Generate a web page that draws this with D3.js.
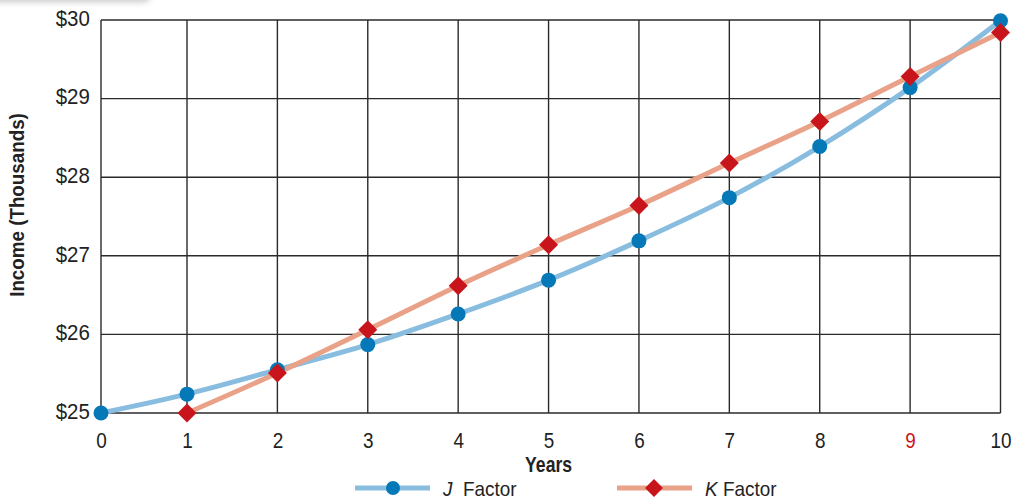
<!DOCTYPE html>
<html>
<head>
<meta charset="utf-8">
<script src="https://cdn.jsdelivr.net/npm/d3@7"></script>
<style>
  html, body { margin: 0; padding: 0; background: #fff; }
  svg { display: block; }
  text { font-family: "Liberation Sans", Arial, sans-serif; }
</style>
</head>
<body>
<svg id="chart" width="1017" height="501"></svg>
<script>
// Years on the horizontal axis
const years = [0, 1, 2, 3, 4, 5, 6, 7, 8, 9, 10];
// Income in thousands of dollars
const jFactor = [25.0, 25.24, 25.55, 25.87, 26.26, 26.69, 27.19, 27.74, 28.39, 29.14, 29.99];
const kYears = [1, 2, 3, 4, 5, 6, 7, 8, 9, 10];
const kFactor = [25.0, 25.51, 26.06, 26.62, 27.14, 27.64, 28.18, 28.71, 29.28, 29.84];
const yTicks = [25, 26, 27, 28, 29, 30];
const yTickLabels = ["$25", "$26", "$27", "$28", "$29", "$30"];
const highlightYear = 9;

const svg = d3.select("#chart");
const plotTop = 20, plotBottom = 413;

// the first year column is slightly narrower than the rest
const x = d3.scaleLinear().domain([0, 1, 10]).range([101, 187, 1000.5]);
const y = d3.scaleLinear().domain([25, 30]).range([plotBottom, plotTop]);
const plotLeft = x(0), plotRight = x(10);

// squeeze text horizontally to get a condensed face
function condense(sel, k) {
  sel.each(function () {
    const t = d3.select(this);
    const tx = +t.attr("x") || 0, ty = +t.attr("y") || 0;
    t.attr("x", null).attr("y", null)
      .attr("transform", `translate(${tx},${ty}) scale(${k},1)`);
  });
}

// soft grey tab shadow in the top-left corner
const defs = svg.append("defs");
defs.append("filter").attr("id", "soft").attr("x", "-20%").attr("y", "-200%").attr("width", "140%").attr("height", "500%")
  .append("feGaussianBlur").attr("stdDeviation", 3);
svg.append("rect").attr("x", -20).attr("y", -10).attr("width", 170).attr("height", 12)
  .attr("rx", 6).attr("fill", "#c8c8c8").attr("filter", "url(#soft)");

const gridColor = "#2a2a2a";

// grid: vertical lines at each year
svg.append("g").selectAll("line").data(years).join("line")
  .attr("x1", d => x(d)).attr("x2", d => x(d))
  .attr("y1", plotTop).attr("y2", plotBottom)
  .attr("stroke", gridColor).attr("stroke-width", 1.4);

// grid: horizontal lines at each income step
svg.append("g").selectAll("line").data(yTicks).join("line")
  .attr("x1", plotLeft).attr("x2", plotRight)
  .attr("y1", d => y(d)).attr("y2", d => y(d))
  .attr("stroke", gridColor).attr("stroke-width", 1.4);

// y-axis labels
const yAxis = d3.axisLeft(y).tickValues(yTicks)
  .tickFormat((d, i) => yTickLabels[i]).tickSize(0).tickPadding(12);
const gy = svg.append("g").attr("transform", `translate(${plotLeft},0)`).call(yAxis);
gy.select(".domain").remove();
gy.selectAll("text").attr("font-size", 22).attr("fill", "#222").attr("dy", "0.24em")
  .attr("transform", "scale(0.93,1)");

// x-axis labels
const xAxis = d3.axisBottom(x).tickValues(years).tickFormat(d3.format("d")).tickSize(0).tickPadding(19);
const gx = svg.append("g").attr("transform", `translate(0,${plotBottom})`).call(xAxis);
gx.select(".domain").remove();
gx.selectAll("text").attr("font-size", 22)
  .attr("fill", d => d === highlightYear ? "#c8151c" : "#222")
  .attr("transform", "scale(0.86,1)");

// axis titles
svg.append("text").attr("x", x(5)).attr("y", 472).attr("text-anchor", "middle")
  .attr("font-size", 22).attr("font-weight", "bold").attr("fill", "#222").text("Years")
  .call(condense, 0.8);
svg.append("text").attr("transform", `translate(24,205) rotate(-90) scale(0.94,1)`)
  .attr("text-anchor", "middle").attr("font-size", 20).attr("font-weight", "bold").attr("fill", "#222")
  .text("Income (Thousands)");

const blueLine = "#88bde0", blueDot = "#0579b8";
const orangeLine = "#e9a288", redMark = "#c8151c";

const line = d3.line().x(d => x(d[0])).y(d => y(d[1])).curve(d3.curveMonotoneX);
const jPts = years.map((yr, i) => [yr, jFactor[i]]);
const kPts = kYears.map((yr, i) => [yr, kFactor[i]]);

svg.append("path").datum(jPts).attr("d", line).attr("fill", "none")
  .attr("stroke", blueLine).attr("stroke-width", 5).attr("stroke-linejoin", "round");
svg.append("path").datum(kPts).attr("d", line).attr("fill", "none")
  .attr("stroke", orangeLine).attr("stroke-width", 5).attr("stroke-linejoin", "round");

const diamond = d3.symbol().type(d3.symbolSquare).size(180);

svg.append("g").selectAll("circle").data(jPts).join("circle")
  .attr("cx", d => x(d[0])).attr("cy", d => y(d[1])).attr("r", 7.5).attr("fill", blueDot);
svg.append("g").selectAll("path").data(kPts).join("path")
  .attr("d", diamond)
  .attr("transform", d => `translate(${x(d[0])},${y(d[1])}) rotate(45)`)
  .attr("fill", redMark);

// legend
const legY = 488;
const lg = svg.append("g");
lg.append("line").attr("x1", 355).attr("x2", 430).attr("y1", legY).attr("y2", legY)
  .attr("stroke", blueLine).attr("stroke-width", 5);
lg.append("circle").attr("cx", 393).attr("cy", legY).attr("r", 7).attr("fill", blueDot);
lg.append("text").attr("x", 443).attr("y", legY + 7.5).attr("font-size", 21).attr("font-style", "italic")
  .attr("fill", "#222").text("J").call(condense, 0.9);
lg.append("text").attr("x", 463).attr("y", legY + 7.5).attr("font-size", 21)
  .attr("fill", "#222").text("Factor").call(condense, 0.9);

lg.append("line").attr("x1", 617).attr("x2", 692).attr("y1", legY).attr("y2", legY)
  .attr("stroke", orangeLine).attr("stroke-width", 5);
lg.append("path").attr("d", d3.symbol().type(d3.symbolSquare).size(160))
  .attr("transform", `translate(654,${legY}) rotate(45)`).attr("fill", redMark);
lg.append("text").attr("x", 705).attr("y", legY + 7.5).attr("font-size", 21).attr("font-style", "italic")
  .attr("fill", "#222").text("K").call(condense, 0.9);
lg.append("text").attr("x", 723).attr("y", legY + 7.5).attr("font-size", 21)
  .attr("fill", "#222").text("Factor").call(condense, 0.9);
</script>
</body>
</html>
